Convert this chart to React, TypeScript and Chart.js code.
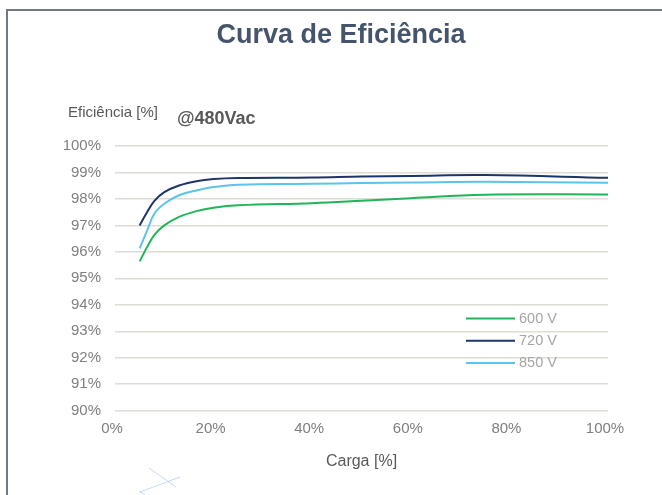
import React, { useEffect, useRef } from "react";
import { Chart, registerables } from "chart.js";

Chart.register(...registerables);

const loadPct = [5, 6.5, 8, 10, 13, 16.5, 20, 25, 40, 50, 60, 75, 100];
const eff600 = [95.64, 96.18, 96.64, 97.0, 97.32, 97.54, 97.67, 97.76, 97.84, 97.93, 98.03, 98.16, 98.17];
const eff720 = [97.0, 97.5, 97.93, 98.26, 98.51, 98.67, 98.75, 98.79, 98.81, 98.85, 98.87, 98.9, 98.8];
const eff850 = [96.13, 96.8, 97.45, 97.82, 98.14, 98.32, 98.45, 98.54, 98.57, 98.6, 98.62, 98.65, 98.61];
const seriesLabels = ["600 V", "720 V", "850 V"];
const seriesColors = ["#20b558", "#1c356a", "#5cc3ea"];
const yTicks = [90, 91, 92, 93, 94, 95, 96, 97, 98, 99, 100];
const xTicks = [0, 20, 40, 60, 80, 100];

const chartTitle = "Curva de Eficiência";
const yAxisTitle = "Eficiência [%]";
const subTitle = "@480Vac";
const xAxisTitle = "Carga [%]";

const FONT = "'Liberation Sans', Arial, Helvetica, sans-serif";

const decorPlugin = {
  id: "decor",
  beforeDraw(chart: any) {
    const ctx = chart.ctx;
    ctx.save();
    ctx.fillStyle = "#ffffff";
    ctx.fillRect(0, 0, chart.width, chart.height);
    // faint stray strokes
    ctx.strokeStyle = "rgba(120,160,220,0.6)";
    ctx.lineWidth = 0.7;
    ctx.beginPath();
    ctx.moveTo(149, 468);
    ctx.lineTo(176, 487);
    ctx.moveTo(140, 492);
    ctx.lineTo(180, 477);
    ctx.moveTo(139, 491);
    ctx.lineTo(145, 495);
    ctx.stroke();
    ctx.restore();
  },
  afterDraw(chart: any) {
    const ctx = chart.ctx;
    ctx.save();
    // cover right edge, then frame (left and top edges only)
    ctx.fillStyle = "#ffffff";
    ctx.fillRect(chart.width - 8, 12, 8, chart.height - 12);
    ctx.fillStyle = "#717981";
    ctx.fillRect(6, 9, 2, chart.height - 9);
    ctx.fillRect(6, 9, chart.width - 6, 2);
    ctx.textBaseline = "alphabetic";
    ctx.fillStyle = "#44546a";
    ctx.font = `bold 27px ${FONT}`;
    ctx.textAlign = "center";
    ctx.fillText(chartTitle, 341, 43);
    ctx.textAlign = "left";
    ctx.fillStyle = "#595959";
    ctx.font = `15px ${FONT}`;
    ctx.fillText(yAxisTitle, 68, 117);
    ctx.font = `bold 18px ${FONT}`;
    ctx.fillText(subTitle, 177, 124);
    // legend
    const { chartArea } = chart;
    const lx = chartArea.left + 351;
    const ly0 = chartArea.top + 172.5;
    chart.data.datasets.forEach((ds: any, i: number) => {
      const y = ly0 + i * 22.2;
      ctx.strokeStyle = ds.borderColor;
      ctx.lineWidth = 2;
      ctx.beginPath();
      ctx.moveTo(lx, y);
      ctx.lineTo(lx + 49, y);
      ctx.stroke();
      ctx.fillStyle = "#a6a6a6";
      ctx.font = `14.5px ${FONT}`;
      ctx.textBaseline = "middle";
      ctx.fillText(ds.label, lx + 53, y + 0.5);
    });
    ctx.restore();
  },
};

export default function App() {
  const ref = useRef<HTMLCanvasElement>(null);
  useEffect(() => {
    if (!ref.current) return;
    const mk = (vals: number[]) => loadPct.map((x, i) => ({ x, y: vals[i] }));
    const chart = new Chart(ref.current, {
      type: "line",
      data: {
        datasets: [eff600, eff720, eff850].map((vals, i) => ({
          label: seriesLabels[i],
          data: mk(vals),
          borderColor: seriesColors[i],
          backgroundColor: seriesColors[i],
          borderWidth: 2,
          pointRadius: 0,
          tension: 0.4,
          fill: false,
        })),
      },
      options: {
        animation: false,
        responsive: false,
        devicePixelRatio: 1,
        layout: { padding: { top: 146, right: 54, bottom: 0, left: 0 } },
        plugins: {
          legend: { display: false },
          tooltip: { enabled: false },
          title: { display: false },
        },
        scales: {
          x: {
            type: "linear",
            min: 0,
            max: 100,
            afterBuildTicks: (scale: any) => {
              scale.ticks = xTicks.map((v) => ({ value: v }));
            },
            afterFit: (scale: any) => {
              scale.height = 84.3;
            },
            grid: { display: false, drawTicks: false },
            border: { display: false },
            ticks: {
              color: "#7f7f7f",
              font: { family: FONT, size: 15 },
              padding: 9,
              labelOffset: -3,
              maxRotation: 0,
              callback: (v: any) => `${v}%`,
            },
            title: {
              display: true,
              text: xAxisTitle,
              color: "#595959",
              font: { family: FONT, size: 16 },
              padding: { top: 0, bottom: 23.7 },
            },
          },
          y: {
            type: "linear",
            min: 90,
            max: 100,
            afterBuildTicks: (scale: any) => {
              scale.ticks = yTicks.map((v) => ({ value: v }));
            },
            afterFit: (scale: any) => {
              scale.width = 115;
            },
            grid: { color: "#dedcd6", lineWidth: 1.5, drawTicks: false },
            border: { display: false },
            ticks: {
              color: "#7f7f7f",
              font: { family: FONT, size: 15 },
              padding: 14,
              callback: (v: any) => `${v}%`,
            },
          },
        },
      },
      plugins: [decorPlugin],
    });
    return () => chart.destroy();
  }, []);
  return (
    <div style={{ position: "absolute", left: 0, top: 0, width: 662, height: 495, overflow: "hidden" }}>
      <canvas ref={ref} width={662} height={495} style={{ display: "block" }} />
    </div>
  );
}
